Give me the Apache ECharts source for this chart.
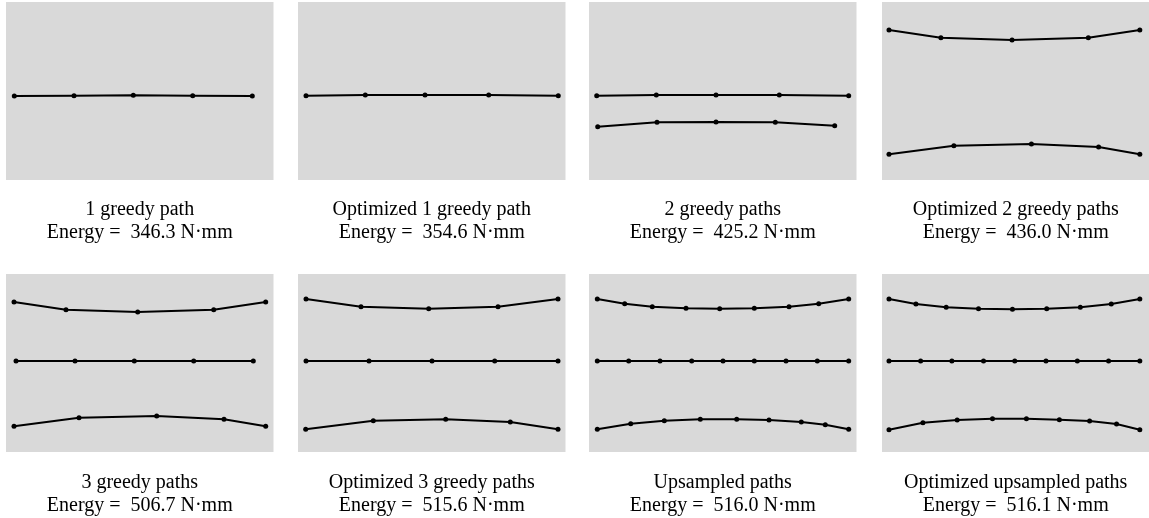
<!DOCTYPE html>
<html>
<head>
<meta charset="utf-8">
<script src="https://cdn.jsdelivr.net/npm/echarts@6/dist/echarts.min.js"></script>
<style>
  html, body { margin: 0; padding: 0; background: #ffffff; }
  #chart { width: 1149px; height: 518px; }
</style>
</head>
<body>
<div id="chart"></div>
<script>
// Panel plane extent (x to the right, y downward), same for every panel
const PLANE_W = 267.5;
const PLANE_H = 178;

// Path vertices, one list of [x, y] per path
const greedy1 = [
  [[8.3, 94], [68, 93.7], [127.3, 93.3], [186.7, 93.7], [246.3, 94]]
];
const optGreedy1 = [
  [[8, 93.7], [67.3, 93], [127, 93], [190.7, 93], [260.3, 93.7]]
];
const greedy2 = [
  [[7.7, 93.7], [67.3, 93], [127, 93], [190.3, 93], [259.7, 93.7]],
  [[8.7, 124.7], [68, 120.3], [127, 120], [186.3, 120.3], [245.7, 123.7]]
];
const optGreedy2 = [
  [[7, 28], [59, 35.7], [130.3, 38], [206.7, 35.7], [258.3, 28]],
  [[7, 152.3], [72, 143.7], [149.7, 142], [217, 145], [258.3, 152.3]]
];
const greedy3 = [
  [[8, 28], [60, 35.7], [131.7, 38], [207.7, 35.7], [259.7, 28]],
  [[10, 87], [69, 87], [128.3, 87], [187.7, 87], [247.3, 87]],
  [[8, 152.3], [73, 143.7], [150.7, 142], [218, 145.3], [259.7, 152.3]]
];
const optGreedy3 = [
  [[8, 25], [63, 32.7], [130.7, 34.7], [200, 32.7], [260, 25]],
  [[8, 87], [71, 87], [134, 87], [196.7, 87], [260, 87]],
  [[7.7, 155.3], [75.3, 146.7], [147.7, 145.3], [212.3, 148], [260, 155.3]]
];
const upsampled = [
  [[8.3, 25], [35.7, 29.7], [63.3, 32.7], [97, 34.3], [130.7, 34.7], [165.3, 34.3], [200, 32.7], [229.7, 29.7], [259.7, 25]],
  [[8.3, 87], [39.7, 87], [71, 87], [102.7, 87], [134, 87], [165.3, 87], [197, 87], [228.3, 87], [259.7, 87]],
  [[8.3, 155.3], [41.7, 149.7], [75.3, 146.7], [111.3, 145.3], [147.7, 145.3], [180, 146], [212.3, 148], [236.3, 150.7], [259.7, 155.3]]
];
const optUpsampled = [
  [[7, 25], [34, 30], [64.3, 33.3], [96.7, 34.7], [130.7, 35.3], [165, 34.7], [198.7, 33.3], [229.7, 30], [258.3, 25]],
  [[7, 87], [38.7, 87], [70, 87], [101.7, 87], [133, 87], [164.3, 87], [195.7, 87], [227, 87], [258.3, 87]],
  [[7, 155.7], [41, 148.7], [75.3, 146], [110.7, 144.7], [144.7, 144.7], [177.7, 145.7], [208, 147], [235, 150], [258.3, 155.7]]
];

// Panel captions and energies (N·mm)
const captions = [
  '1 greedy path', 'Optimized 1 greedy path', '2 greedy paths', 'Optimized 2 greedy paths',
  '3 greedy paths', 'Optimized 3 greedy paths', 'Upsampled paths', 'Optimized upsampled paths'
];
const energies = [346.3, 354.6, 425.2, 436.0, 506.7, 515.6, 516.0, 516.1];

const panels = [greedy1, optGreedy1, greedy2, optGreedy2, greedy3, optGreedy3, upsampled, optUpsampled];

// Layout of the 2 x 4 panel grid
const colLeft = [6, 298, 589, 882];
const rowTop = [2, 274];
const captionTop = [198, 471.5];

const grids = [], xAxes = [], yAxes = [], series = [], titles = [];

panels.forEach((paths, i) => {
  const r = Math.floor(i / 4), c = i % 4;
  grids.push({
    left: colLeft[c], top: rowTop[r], width: PLANE_W, height: PLANE_H,
    show: true, backgroundColor: '#d9d9d9', borderWidth: 0
  });
  xAxes.push({ type: 'value', gridIndex: i, min: 0, max: PLANE_W, show: false });
  yAxes.push({ type: 'value', gridIndex: i, min: 0, max: PLANE_H, inverse: true, show: false });
  paths.forEach(path => {
    series.push({
      type: 'line', xAxisIndex: i, yAxisIndex: i, data: path,
      symbol: 'circle', symbolSize: 5, showSymbol: true,
      lineStyle: { color: '#000000', width: 2 },
      itemStyle: { color: '#000000' },
      silent: true, animation: false
    });
  });
  titles.push({
    text: captions[i] + '\nEnergy =  ' + energies[i].toFixed(1) + ' N·mm',
    left: colLeft[c] + PLANE_W / 2, top: captionTop[r],
    textAlign: 'center', padding: 0,
    textStyle: {
      fontFamily: '"Liberation Serif", "Times New Roman", serif',
      fontSize: 20, fontWeight: 'normal', color: '#000000', lineHeight: 23
    }
  });
});

const chart = echarts.init(document.getElementById('chart'), null, { renderer: 'canvas' });
chart.setOption({
  animation: false,
  backgroundColor: '#ffffff',
  title: titles,
  grid: grids,
  xAxis: xAxes,
  yAxis: yAxes,
  tooltip: { show: false },
  series: series
});
</script>
</body>
</html>
